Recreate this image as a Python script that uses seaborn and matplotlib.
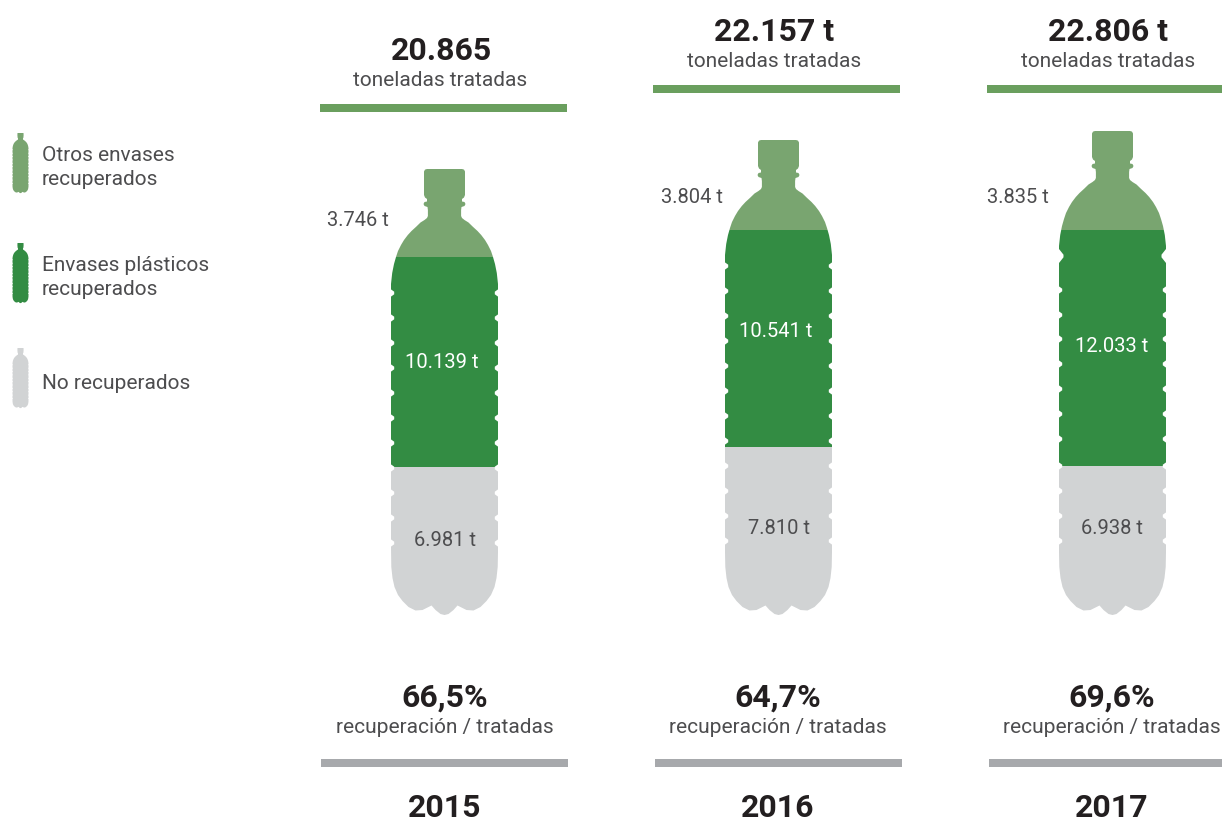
import numpy as np
import pandas as pd
import matplotlib
matplotlib.use("Agg")
import matplotlib.pyplot as plt
from matplotlib.path import Path
from matplotlib.patches import PathPatch, Rectangle
import seaborn as sns

# ---- data -------------------------------------------------------------
years = ["2015", "2016", "2017"]
no_recuperados = [6981, 7810, 6938]
plasticos = [10139, 10541, 12033]
otros = [3746, 3804, 3835]
total_labels = ["20.865", "22.157 t", "22.806 t"]
recovery_labels = ["66,5%", "64,7%", "69,6%"]
# drawn fill height of the bottle at each cumulative level (the picture scales by bottle area)
level_grey = [147, 167, 148]
level_green = [357, 384, 384]
level_top = [445, 474, 483]

legend_labels = ["Otros envases\nrecuperados", "Envases plásticos\nrecuperados", "No recuperados"]

C_LIGHT = "#79A570"
C_GREEN = "#338C43"
C_GREY = "#D1D3D4"
C_RULE_G = "#6A9F5E"
C_RULE_K = "#A7A9AC"
C_TEXT = "#231F20"
C_SOFT = "#4D4D4F"

sns.set_theme(style="white")
plt.rcParams["font.family"] = ["Roboto", "DejaVu Sans"]

W, H = 1222, 821
fig = plt.figure(figsize=(W / 100, H / 100), dpi=100, facecolor="white")
page = fig.add_axes([0, 0, 1, 1], zorder=5)
page.set_xlim(0, W)
page.set_ylim(H, 0)
page.axis("off")
page.patch.set_alpha(0)


def fmt(v):
    return f"{v:,}".replace(",", ".") + " t"


# ---- bottle outline ----------------------------------------------------
SHOULDER = [(17.5, 0), (19.5, 0.6), (20.5, 2.5), (20.5, 26), (19.5, 28.5), (17.5, 30), (17.5, 32.5),
            (20, 33), (21, 35), (20, 37), (17, 38), (16.6, 41), (16.6, 47), (17.5, 49),
            (20, 51), (24, 53.5), (28.3, 57.7), (33, 62), (36.7, 66), (40.5, 71), (43.5, 76),
            (46.5, 82), (48.5, 88), (50.5, 95), (52.3, 104), (53.5, 115)]
BASE = [(53.5, 552), (53.2, 567), (52, 578), (50, 587), (46.5, 595), (42, 601),
        (36, 607), (29, 610.5), (22, 610), (13, 605.5), (9, 610), (4, 614), (0, 615)]


def bottle_path(cx, top, bottom, notches, big, sx=1.0, sy=1.0):
    prof = [(h * sx, top + o * sy) for h, o in SHOULDER]
    body = []
    for n in notches:
        d, w = (4.5, 7) if n == big else (3.2, 3.6)
        ny = bottom - (614 - n) * sy
        body += [(53.5 * sx, ny - w * sy), ((53.5 - d) * sx, ny - 1.3 * sy),
                 ((53.5 - d) * sx, ny + 1.3 * sy), (53.5 * sx, ny + w * sy)]
    lower = [(h * sx, bottom - (614 - y) * sy) for h, y in BASE]
    right = prof + body + lower
    left = right[::-1][1:]
    pts = [(cx + h, y) for h, y in right] + [(cx - h, y) for h, y in left]
    pts = [(cx - right[0][0], right[0][1])] + pts
    return Path(pts)


centers = [444.5, 778.5, 1112.5]
year_x = [445, 778, 1112]
tops = [169, 140, 131]
bottom_px = 616
notch_sets = [
    [293, 318, 343, 368, 393, 418, 443, 468, 493, 518, 543],
    [266, 291, 316, 341, 366, 391, 416, 441, 466, 491, 516, 541],
    [256, 290, 315, 339, 364, 389, 414, 439, 466, 491, 516, 541],
]
bigs = [None, None, 256]

for i, yr in enumerate(years):
    g, p, o = no_recuperados[i], plasticos[i], otros[i]
    cum = [g + p + o, g + p, g]
    lower = [g + p, g, 0]
    cols = [C_LIGHT, C_GREEN, C_GREY]
    cx, top = centers[i], tops[i]

    left_px, right_px = cx - 54, cx + 54
    ax = fig.add_axes([left_px / W, 1 - bottom_px / H, (right_px - left_px) / W,
                       (bottom_px - top) / H], zorder=2)
    tonnes = np.array([0, g, g + p, g + p + o], dtype=float)
    heights = np.array([0, level_grey[i] + 2, level_green[i] + 2, level_top[i] + 2], dtype=float)
    ax.set_yscale("function", functions=(
        lambda v, t=tonnes, h=heights: np.interp(v, t, h),
        lambda v, t=tonnes, h=heights: np.interp(v, h, t)))
    for value, colour in zip(cum, cols):
        df = pd.DataFrame({"year": [yr], "toneladas": [value]})
        sns.barplot(data=df, x="year", y="toneladas", color=colour, saturation=1,
                    width=1, ax=ax, errorbar=None, zorder=2, linewidth=0)
    ax.set_xlim(-0.5, 0.5)
    ax.set_ylim(0, g + p + o)
    ax.axis("off")
    ax.patch.set_alpha(0)
    shape = bottle_path(cx, top, 614, notch_sets[i], bigs[i])
    for bar, base, value in zip(ax.patches, lower, cum):
        bar.set_y(base)
        bar.set_height(value - base)
        bar.set_clip_path(shape, page.transData)

# ---- text and rules -----------------------------------------------------
top_rule = [(320, 567, 104), (653, 900, 85), (987, 1222, 85)]
bot_rule = [(321, 568), (655, 902), (989, 1222)]
total_x = [441, 774, 1108]
sub_x = [440.5, 774.5, 1108]
rec_x = [444.5, 778, 1112]
outer_x = [358, 692, 1018]
outer_y = [226, 203, 203]
green_pos = [(442, 368), (776, 337), (1112, 352)]
grey_pos = [(445, 546), (779, 534), (1112, 534)]

for i, yr in enumerate(years):
    x0, x1, ry = top_rule[i]
    page.add_patch(Rectangle((x0, ry), x1 - x0, 8, fc=C_RULE_G, ec="none"))
    page.text(total_x[i], ry - 44, total_labels[i], ha="center", va="baseline",
              fontsize=23, fontweight="bold", color=C_TEXT)
    page.text(sub_x[i], ry - 18, "toneladas tratadas", ha="center", va="baseline",
              fontsize=15, color=C_SOFT)
    page.text(outer_x[i], outer_y[i], fmt(otros[i]), ha="center", va="baseline",
              fontsize=14.5, color=C_SOFT)
    page.text(*green_pos[i], fmt(plasticos[i]), ha="center", va="baseline",
              fontsize=14.5, color="white")
    page.text(*grey_pos[i], fmt(no_recuperados[i]), ha="center", va="baseline",
              fontsize=14.5, color=C_SOFT)
    page.text(rec_x[i], 707, recovery_labels[i], ha="center", va="baseline",
              fontsize=23, fontweight="bold", color=C_TEXT)
    page.text(rec_x[i], 733, "recuperación / tratadas", ha="center", va="baseline",
              fontsize=15, color=C_SOFT)
    b0, b1 = bot_rule[i]
    page.add_patch(Rectangle((b0, 759), b1 - b0, 8, fc=C_RULE_K, ec="none"))
    page.text(year_x[i], 817, yr, ha="center", va="baseline",
              fontsize=23, fontweight="bold", color=C_TEXT)

# ---- legend ---------------------------------------------------------------
leg_tops = [133, 243, 348]
leg_cols = [C_LIGHT, C_GREEN, C_GREY]
leg_text_y = [155, 265, 383]
sy = 60 / 446
mini = [293, 318, 343, 368, 393, 418, 443, 468, 493, 518, 543]
for t, c, label, ty in zip(leg_tops, leg_cols, legend_labels, leg_text_y):
    page.add_patch(PathPatch(bottle_path(20.5, t, t + 60, mini, None, sx=8 / 53.5, sy=sy),
                             fc=c, ec="none"))
    for k, line in enumerate(label.split("\n")):
        page.text(42, ty + 6 + k * 24, line, ha="left", va="baseline",
                  fontsize=15, color=C_SOFT)

fig.savefig("out.png", dpi=100, facecolor="white")
